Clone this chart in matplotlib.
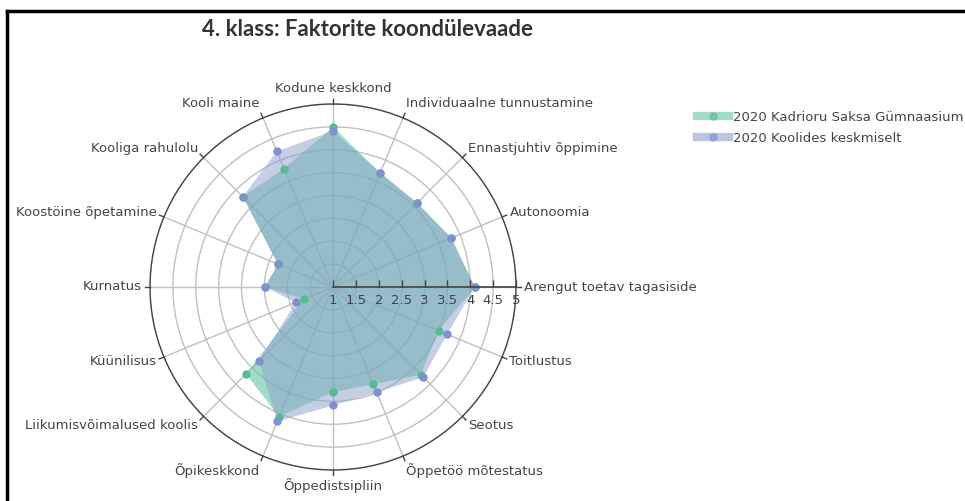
import numpy as np
import matplotlib
matplotlib.use("Agg")
import matplotlib.pyplot as plt
from matplotlib.lines import Line2D

# categories in plotly order (counterclockwise from east)
categories = ["Arengut toetav tagasiside", "Autonoomia", "Ennastjuhtiv õppimine",
              "Individuaalne tunnustamine", "Kodune keskkond", "Kooli maine",
              "Kooliga rahulolu", "Koostöine õpetamine", "Kurnatus", "Küünilisus",
              "Liikumisvõimalused koolis", "Õpikeskkond", "Õppedistsipliin",
              "Õppetöö mõtestatus", "Seotus", "Toitlustus"]
school = [4.10, 3.80, 3.60, 3.70, 4.50, 3.80, 3.79, 2.30,
          2.49, 1.69, 3.69, 4.07, 3.30, 3.30, 3.71, 3.50]
average = [4.10, 3.80, 3.60, 3.70, 4.41, 4.21, 3.79, 2.30,
           2.49, 1.88, 3.29, 4.18, 3.59, 3.49, 3.79, 3.70]
series_names = ["2020 Kadrioru Saksa Gümnaasium", "2020 Koolides keskmiselt"]
radial_ticks = [1, 1.5, 2, 2.5, 3, 3.5, 4, 4.5, 5]
radial_labels = ["1", "1.5", "2", "2.5", "3", "3.5", "4", "4.5", "5"]

fill_colors = ["#66c2a5", "#8da0cb"]
fill_alpha = [0.6, 0.5]
marker_colors = ["#55bb95", "#8090d0"]
text_col = "#444444"

W, H = 965, 501
fig = plt.figure(figsize=(W / 100, H / 100), dpi=100)

cx, cy, R = 333, 287, 183
ax = fig.add_axes([(cx - R) / W, (H - cy - R) / H, 2 * R / W, 2 * R / H], projection="polar")
ax.set_theta_zero_location("E")
ax.set_theta_direction(1)
ax.set_ylim(1, 5)

n = len(categories)
theta = np.arange(n) * 2 * np.pi / n
theta_c = np.append(theta, theta[0])

for vals, fc, fa, mc in zip([school, average], fill_colors, fill_alpha, marker_colors):
    v = np.append(vals, vals[0])
    ax.fill(theta_c, v, color=fc, alpha=fa, lw=0, zorder=2)
    ax.plot(theta, vals, linestyle="none", marker="o", markersize=5,
            color=mc, zorder=3)

# grid
ax.set_xticks(theta)
ax.set_xticklabels([])
ax.set_yticks(radial_ticks)
ax.set_yticklabels([])
ax.grid(True, color="#c0c0c0", lw=1)
ax.spines["polar"].set_color(text_col)
ax.spines["polar"].set_linewidth(1)
ax.tick_params(axis="both", length=0)

# outside ticks on the angular axis
tick_len = 5 / R * (ax.get_ylim()[1] - ax.get_ylim()[0])
for t in theta:
    ax.plot([t, t], [5, 5 + tick_len], color=text_col, lw=1, clip_on=False, zorder=4)

# radial axis line with ticks and labels
ax.plot([0, 0], [1, 5], color=text_col, lw=1.2, zorder=4, clip_on=False)
ax.plot(np.zeros(len(radial_ticks)), radial_ticks, linestyle="none", marker=2,
        markersize=5, color=text_col, zorder=4, clip_on=False)
for v, lab in zip(radial_ticks, radial_labels):
    ax.annotate(lab, xy=(0, v), xytext=(0, -7), textcoords="offset pixels",
                ha="center", va="top", fontsize=9.5, color=text_col, zorder=5)

# angular labels
for t, lab in zip(theta, categories):
    c, s = np.cos(t), np.sin(t)
    ha = "left" if c > 0.1 else ("right" if c < -0.1 else "center")
    ax.annotate(lab, xy=(t, 5), xytext=(c * 8, s * (10 + 6 * s * s)), textcoords="offset pixels",
                ha=ha, va="center", fontsize=9.5, color=text_col, annotation_clip=False)

fig.text(367 / W, 1 - 30 / H, "4. klass: Faktorite koondülevaade", ha="center", va="center",
         fontsize=16, fontweight="bold", family="Lato", color="#333333")

handles = [Line2D([], [], color=fc, alpha=0.6, lw=6, marker="o", markersize=5,
                  markerfacecolor=mc, markeredgecolor=mc)
           for fc, mc in zip(fill_colors, marker_colors)]
fig.legend(handles, series_names, loc="upper left", bbox_to_anchor=(697 / W, 1 - 111 / H),
           frameon=False, fontsize=9.5, handlelength=2.4, handletextpad=0.3,
           labelspacing=0.6, borderpad=0, borderaxespad=0, labelcolor=text_col)

# frame lines
fig.add_artist(Line2D([7 / W, 1], [1 - 11 / H, 1 - 11 / H], color="black", lw=2.5))
fig.add_artist(Line2D([7 / W, 7 / W], [0, 1 - 11 / H], color="black", lw=2.5))

fig.savefig("out.png", dpi=100)
